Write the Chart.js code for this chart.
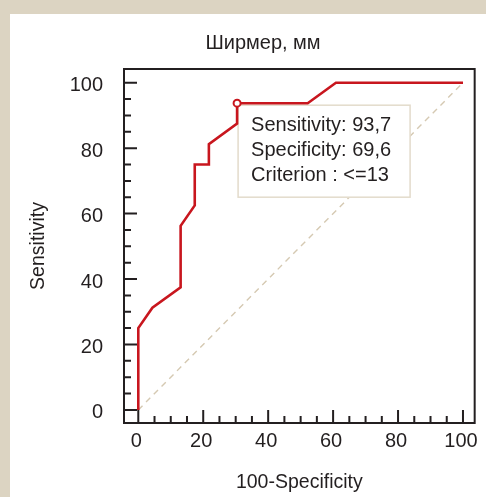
<!DOCTYPE html>
<html lang="ru">
<head>
<meta charset="UTF-8">
<title>Ширмер, мм</title>
<script src="https://cdn.jsdelivr.net/npm/chart.js"></script>
<style>
  html, body { margin: 0; padding: 0; background: #dcd4c2; }
  #wrap { width: 486px; height: 497px; }
</style>
</head>
<body>
<div id="wrap"><canvas id="roc" width="486" height="497"></canvas></div>
<script>
const chartTitle = 'Ширмер, мм';
const xTitle = '100-Specificity';
const yTitle = 'Sensitivity';

// ROC curve: 100-specificity (x) and sensitivity (y)
const fpr  = [0, 0, 4.35, 13.04, 13.04, 17.39, 17.39, 21.74, 21.74, 30.43, 30.43, 52.17, 60.87, 100];
const sens = [0, 25, 31.25, 37.5, 56.25, 62.5, 75, 75, 81.25, 87.5, 93.75, 93.75, 100, 100];

// reference diagonal
const diagX = [0, 100];
const diagY = [0, 100];

// optimal criterion point
const cutX = [30.43];
const cutY = [93.75];
const infoLines = ['Sensitivity: 93,7', 'Specificity: 69,6', 'Criterion : <=13'];

const xTicks = [0, 20, 40, 60, 80, 100];
const yTicks = [0, 20, 40, 60, 80, 100];
const minorStep = 5;

const FONT = "'Liberation Sans', Arial, sans-serif";
const INK = '#231f20';
const RED = '#c8161e';

const toPts = (xs, ys) => xs.map((v, i) => ({ x: v, y: ys[i] }));

const decor = {
    id: 'decor',
    beforeDraw(chart) {
        const c = chart.ctx;
        c.save();
        c.fillStyle = '#dcd4c2';
        c.fillRect(0, 0, chart.width, chart.height);
        c.fillStyle = '#ffffff';
        c.fillRect(10, 14, chart.width - 10, chart.height - 14);
        c.restore();
    },
    afterDatasetDraw(chart, args) {
        // info box goes over the diagonal but under the curve
        if (args.index !== 2) return;
        const c = chart.ctx;
        const { x, y } = chart.scales;
        const px = x.getPixelForValue(cutX[0]);
        const py = y.getPixelForValue(cutY[0]);
        c.save();
        c.fillStyle = '#ffffff';
        c.strokeStyle = '#e3dbcb';
        c.lineWidth = 1.5;
        c.fillRect(px + 1, py + 2, 172, 92);
        c.strokeRect(px + 1, py + 2, 172, 92);
        c.fillStyle = INK;
        c.font = '20px ' + FONT;
        c.textBaseline = 'alphabetic';
        infoLines.forEach((t, i) => c.fillText(t, px + 14, py + 28 + i * 25));
        c.restore();
    },
    afterDatasetsDraw(chart) {
        const c = chart.ctx;
        const a = chart.chartArea;
        const { x, y } = chart.scales;
        c.save();
        c.strokeStyle = INK;
        c.lineWidth = 2;
        c.strokeRect(a.left, a.top, a.right - a.left, a.bottom - a.top);
        c.beginPath();
        for (let v = 0; v <= 100; v += minorStep) {
            const len = v % 20 === 0 ? 13 : 7;
            const xp = x.getPixelForValue(v);
            c.moveTo(xp, a.bottom);
            c.lineTo(xp, a.bottom - len);
            const yp = y.getPixelForValue(v);
            c.moveTo(a.left, yp);
            c.lineTo(a.left + len, yp);
        }
        c.stroke();
        c.fillStyle = INK;
        c.font = '20px ' + FONT;
        c.textAlign = 'center';
        c.textBaseline = 'alphabetic';
        c.fillText(chartTitle, 263, 49);
        c.restore();
    }
};

new Chart(document.getElementById('roc'), {
    type: 'scatter',
    data: {
        datasets: [
            {
                data: toPts(cutX, cutY),
                showLine: false,
                pointRadius: 3.5,
                pointBorderWidth: 2,
                pointBackgroundColor: '#ffffff',
                pointBorderColor: RED
            },
            {
                data: toPts(fpr, sens),
                showLine: true,
                borderColor: RED,
                borderWidth: 2.6,
                pointRadius: 0,
                tension: 0
            },
            {
                data: toPts(diagX, diagY),
                showLine: true,
                borderColor: '#d5c9b2',
                borderWidth: 1.4,
                borderDash: [6, 5],
                pointRadius: 0
            }
        ]
    },
    options: {
        responsive: false,
        animation: false,
        devicePixelRatio: 1,
        layout: { padding: { left: 10, right: 10, top: 69, bottom: 0 } },
        plugins: {
            legend: { display: false },
            tooltip: { enabled: false }
        },
        scales: {
            x: {
                type: 'linear',
                min: -4.4,
                max: 103.6,
                afterBuildTicks: s => { s.ticks = xTicks.map(v => ({ value: v })); },
                afterFit: s => { s.height = 74; },
                grid: { display: false, drawTicks: false },
                border: { display: false },
                ticks: {
                    color: INK,
                    font: { family: FONT, size: 20 },
                    padding: 6,
                    labelOffset: -2,
                    maxRotation: 0
                },
                title: {
                    display: true,
                    text: xTitle,
                    color: INK,
                    font: { family: FONT, size: 19.5 },
                    padding: { top: 0, bottom: 3 }
                }
            },
            y: {
                type: 'linear',
                min: -4,
                max: 104.2,
                afterBuildTicks: s => { s.ticks = yTicks.map(v => ({ value: v })); },
                afterFit: s => { s.width = 114; },
                grid: { display: false, drawTicks: false },
                border: { display: false },
                ticks: {
                    color: INK,
                    font: { family: FONT, size: 20 },
                    padding: 21,
                    labelOffset: 3
                },
                title: {
                    display: true,
                    text: yTitle,
                    color: INK,
                    font: { family: FONT, size: 19.5 },
                    padding: { top: 17, bottom: 0 }
                }
            }
        }
    },
    plugins: [decor]
});
</script>
</body>
</html>
